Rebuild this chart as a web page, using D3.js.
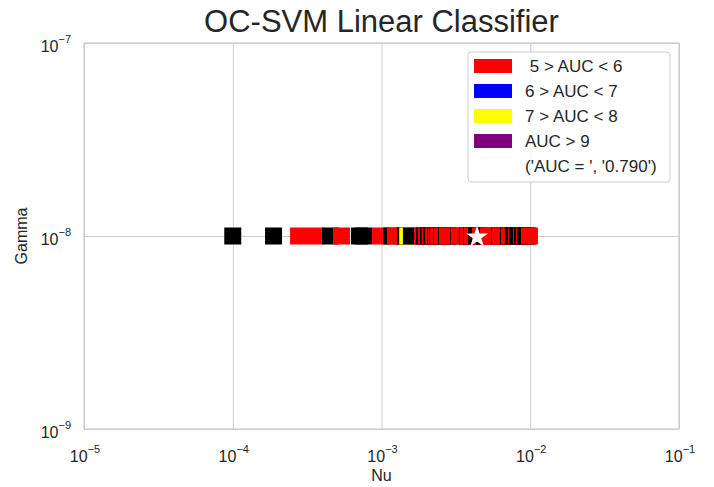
<!doctype html>
<html>
<head>
<meta charset="utf-8">
<script src="https://d3js.org/d3.v7.min.js"></script>
<style>
body { margin: 0; background: #fff; }
svg { font-family: "Liberation Sans", Arial, sans-serif; }
</style>
</head>
<body>
<svg></svg>
<script>

// nu values of the grid search (gamma fixed at 1e-8), in drawing order
const nuValues = [
	1.00e-4, 1.88e-4, 2.77e-4, 3.60e-4, 4.54e-4, 5.38e-4, 7.11e-4, 7.57e-4,
	9.85e-4, 1.17e-3, 1.24e-3, 1.45e-3, 1.50e-3, 1.59e-3, 1.89e-3, 1.95e-3,
	2.01e-3, 2.07e-3, 2.12e-3, 2.17e-3, 2.24e-3, 2.31e-3, 2.34e-3, 2.38e-3,
	2.42e-3, 2.53e-3, 2.57e-3, 2.73e-3, 2.78e-3, 3.30e-3, 3.34e-3, 3.78e-3,
	3.85e-3, 4.03e-3, 4.09e-3, 4.36e-3, 4.63e-3, 4.92e-3, 5.24e-3, 5.66e-3,
	5.93e-3, 6.21e-3, 6.31e-3, 7.14e-3, 7.26e-3, 7.71e-3, 7.96e-3, 8.09e-3,
	8.21e-3, 8.47e-3, 8.73e-3, 8.87e-3, 9.15e-3, 9.29e-3, 9.58e-3, 9.88e-3
];
// AUC band of each point: "low" is below 5
const aucBands = [
	"low", "low", "5-6", "5-6", "low", "5-6", "low", "low",
	"5-6", "low", "5-6", "low", "7-8", "low", "5-6", "low",
	"5-6", "low", "5-6", "low", "5-6", "low", "5-6", "low",
	"5-6", "low", "5-6", "low", "5-6", "low", "5-6", "low",
	"5-6", "low", "5-6", "low", "5-6", "low", "5-6", "5-6",
	"5-6", "low", "5-6", "low", "5-6", "low", "low", "5-6",
	"low", "low", "5-6", "low", "5-6", "low", "low", "5-6"
];
const gamma = 1e-8;
const bestNu = 4.39e-3;
const bestGamma = 1e-8;

const legendLabels = [" 5 > AUC < 6", "6 > AUC < 7", "7 > AUC < 8", "AUC > 9"];
const legendColors = ["#ff0000", "#0000ff", "#ffff00", "#800080"];
const aucText = "('AUC = ', '0.790')";

const xTicks = [1e-5, 1e-4, 1e-3, 1e-2, 1e-1];
const yTicks = [1e-9, 1e-8, 1e-7];

const W = 714, H = 487;
const margin = {top: 43, right: 35, bottom: 58, left: 84};
const ink = "#262626";
const gridColor = "#cccccc";

const bandColor = d3.scaleOrdinal()
	.domain(["low", "5-6", "6-7", "7-8", "9+"])
	.range(["#000000", "#ff0000", "#0000ff", "#ffff00", "#800080"]);

const svg = d3.select("svg").attr("width", W).attr("height", H);

const x = d3.scaleLog().domain([1e-5, 1e-1]).range([margin.left, W - margin.right]);
const y = d3.scaleLog().domain([1e-9, 1e-7]).range([H - margin.bottom, margin.top]);

// grid
svg.append("g")
	.attr("transform", `translate(0,${H - margin.bottom})`)
	.call(d3.axisBottom(x).tickValues(xTicks).tickSize(-(H - margin.top - margin.bottom)).tickFormat(""))
	.call(g => g.select(".domain").remove())
	.call(g => g.selectAll("line").attr("stroke", gridColor).attr("stroke-width", 1));
svg.append("g")
	.attr("transform", `translate(${margin.left},0)`)
	.call(d3.axisLeft(y).tickValues(yTicks).tickSize(-(W - margin.left - margin.right)).tickFormat(""))
	.call(g => g.select(".domain").remove())
	.call(g => g.selectAll("line").attr("stroke", gridColor).attr("stroke-width", 1));

// frame
svg.append("rect")
	.attr("x", margin.left).attr("y", margin.top)
	.attr("width", W - margin.left - margin.right)
	.attr("height", H - margin.top - margin.bottom)
	.attr("fill", "none").attr("stroke", gridColor).attr("stroke-width", 1.2);

function powLabel(sel, v) {
	const e = Math.round(Math.log10(v));
	sel.text(null);
	sel.append("tspan").text("10");
	sel.append("tspan").attr("dy", -9).attr("font-size", 11).text("\u2212" + Math.abs(e));
}

// x tick labels
svg.append("g").selectAll("text").data(xTicks).join("text")
	.attr("x", d => x(d) + 1)
	.attr("y", H - margin.bottom + 33)
	.attr("text-anchor", "middle")
	.attr("font-size", 16).attr("fill", ink)
	.each(function(d) { powLabel(d3.select(this), d); });

// y tick labels
svg.append("g").selectAll("text").data(yTicks).join("text")
	.attr("x", margin.left - 13)
	.attr("y", d => y(d) + 9)
	.attr("text-anchor", "end")
	.attr("font-size", 16).attr("fill", ink)
	.each(function(d) { powLabel(d3.select(this), d); });

// axis titles
svg.append("text")
	.attr("x", (margin.left + W - margin.right) / 2).attr("y", H - 6)
	.attr("text-anchor", "middle").attr("font-size", 16).attr("fill", ink)
	.text("Nu");
svg.append("text")
	.attr("transform", `translate(27,${(margin.top + H - margin.bottom) / 2}) rotate(-90)`)
	.attr("text-anchor", "middle").attr("font-size", 16).attr("fill", ink)
	.text("Gamma");

svg.append("text")
	.attr("x", (margin.left + W - margin.right) / 2).attr("y", 32)
	.attr("text-anchor", "middle").attr("font-size", 31).attr("fill", ink)
	.text("OC-SVM Linear Classifier");

// points
const side = 17;
svg.append("g").selectAll("rect").data(nuValues).join("rect")
	.attr("x", d => x(d) - side / 2)
	.attr("y", y(gamma) - side / 2)
	.attr("width", side).attr("height", side)
	.attr("fill", (d, i) => bandColor(aucBands[i]));

// best point
svg.append("path")
	.attr("d", d3.symbol().type(d3.symbolStar).size(150)())
	.attr("transform", `translate(${x(bestNu)},${y(bestGamma) + 1})`)
	.attr("fill", "#ffffff");

// legend
const lg = svg.append("g").attr("transform", "translate(468,52)");
lg.append("rect")
	.attr("width", 202).attr("height", 130).attr("rx", 3)
	.attr("fill", "#ffffff").attr("fill-opacity", 0.85)
	.attr("stroke", "#cccccc");
const rows = lg.selectAll("g.row").data(legendLabels).join("g")
	.attr("class", "row")
	.attr("transform", (d, i) => `translate(0,${14 + i * 25})`);
rows.append("rect")
	.attr("x", 6).attr("y", -7).attr("width", 38).attr("height", 14)
	.attr("fill", (d, i) => legendColors[i]);
rows.append("text")
	.attr("x", 57).attr("y", 6)
	.attr("font-size", 17).attr("fill", ink)
	.attr("xml:space", "preserve")
	.style("white-space", "pre")
	.text(d => d);
lg.append("text")
	.attr("x", 57).attr("y", 14 + 4 * 25 + 6)
	.attr("font-size", 17).attr("fill", ink)
	.text(aucText);

</script>
</body>
</html>
